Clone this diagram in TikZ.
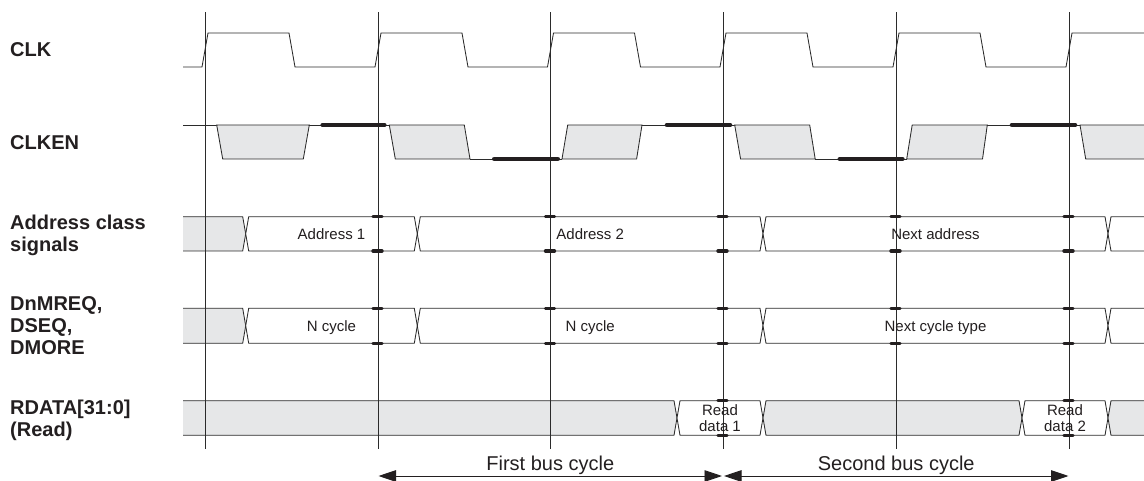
\documentclass[tikz,border=0pt]{standalone}
\usepackage{fontspec}
\setmainfont{Liberation Sans}
\usetikzlibrary{arrows.meta}
\definecolor{ink}{HTML}{231F20}
\definecolor{wire}{HTML}{2B2B2B}
\definecolor{busgray}{HTML}{E6E7E8}
\tikzset{
  sig/.style={draw=wire, line width=0.85pt, line join=miter},
  vline/.style={draw=wire, line width=0.8pt},
  enbar/.style={draw=ink, line width=4.6pt, line cap=round},
  holdbar/.style={draw=ink, line width=3.4pt, line cap=round},
  rowlabel/.style={font=\bfseries\fontsize{20}{21.6}\selectfont, text=ink, anchor=north west, align=left, inner sep=0pt},
  val/.style={font=\fontsize{15}{15.7}\selectfont, text=ink, inner sep=0pt, anchor=base},
  cycarrow/.style={draw=ink, line width=0.9pt, {Triangle[length=17.5pt,width=11.5pt]}-{Triangle[length=17.5pt,width=11.5pt]}},
  cyclabel/.style={font=\fontsize{20}{24}\selectfont, text=ink, inner sep=0pt, anchor=base},
}
% bus value box between two crossings
\newcommand{\tdbox}[5]{\draw[sig,fill=#5] (#1,{(#3+#4)/2}) -- ({#1+3},#3) -- ({#2-3},#3) -- (#2,{(#3+#4)/2}) -- ({#2-3},#4) -- ({#1+3},#4) -- cycle;}
% bus value open at the left edge
\newcommand{\tdstart}[4]{%
  \fill[fill=#4] (183,#2) -- ({#1-3},#2) -- (#1,{(#2+#3)/2}) -- ({#1-3},#3) -- (183,#3) -- cycle;
  \draw[sig] (183,#2) -- ({#1-3},#2) -- (#1,{(#2+#3)/2}) -- ({#1-3},#3) -- (183,#3);}
% bus value open at the right edge
\newcommand{\tdend}[4]{%
  \fill[fill=#4] (1146,#2) -- ({#1+3},#2) -- (#1,{(#2+#3)/2}) -- ({#1+3},#3) -- (1146,#3) -- cycle;
  \draw[sig] (1146,#2) -- ({#1+3},#2) -- (#1,{(#2+#3)/2}) -- ({#1+3},#3) -- (1146,#3);}
\begin{document}
\begin{tikzpicture}[x=1pt,y=-1pt]
\useasboundingbox (0,0) rectangle (1144,481);

% ---------- CLK ----------
\draw[sig] (183,67) -- (202,67) -- (208,33) -- (289,33) -- (295,67)
  -- (375,67) -- (381,33) -- (462,33) -- (468,67)
  -- (547.5,67) -- (553.5,33) -- (634.5,33) -- (640.5,67)
  -- (720,67) -- (726,33) -- (807,33) -- (813,67)
  -- (893,67) -- (899,33) -- (980,33) -- (986,67)
  -- (1066,67) -- (1072,33) -- (1146,33);

% ---------- CLKEN ----------
\draw[sig] (183,125) -- (216.7,125);
\draw[sig,fill=busgray] (216.7,125) -- (309.3,125) -- (303.3,159) -- (222.7,159) -- cycle;
\draw[sig] (309.3,125) -- (389.3,125);
\draw[sig,fill=busgray] (389.3,125) -- (464.3,125) -- (470,159) -- (395.3,159) -- cycle;
\draw[sig] (470,159) -- (562,159);
\draw[sig,fill=busgray] (562,159) -- (567.7,125) -- (642,125) -- (636.6,159) -- cycle;
\draw[sig] (642,125) -- (734.7,125);
\draw[sig,fill=busgray] (734.7,125) -- (809.7,125) -- (815.2,159) -- (740.6,159) -- cycle;
\draw[sig] (815.2,159) -- (906.7,159);
\draw[sig,fill=busgray] (906.7,159) -- (912.2,125) -- (987.3,125) -- (982.5,159) -- cycle;
\draw[sig] (987.3,125) -- (1080,125);
\fill[fill=busgray] (1080,125) -- (1146,125) -- (1146,159) -- (1085.7,159) -- cycle;
\draw[sig] (1146,125) -- (1080,125) -- (1085.7,159) -- (1146,159);

% ---------- Address class signals ----------
\tdstart{245.7}{216.7}{251}{busgray}
\tdbox{245.7}{417.3}{216.7}{251}{white}
\tdbox{417.3}{763}{216.7}{251}{white}
\tdbox{763}{1108}{216.7}{251}{white}
\tdend{1108}{216.7}{251}{white}

% ---------- DnMREQ, DSEQ, DMORE ----------
\tdstart{245.7}{308.3}{343.3}{busgray}
\tdbox{245.7}{417.3}{308.3}{343.3}{white}
\tdbox{417.3}{763}{308.3}{343.3}{white}
\tdbox{763}{1108}{308.3}{343.3}{white}
\tdend{1108}{308.3}{343.3}{white}

% ---------- RDATA ----------
\tdstart{677}{400.7}{435.3}{busgray}
\tdbox{677}{763}{400.7}{435.3}{white}
\tdbox{763}{1022}{400.7}{435.3}{busgray}
\tdbox{1022}{1108}{400.7}{435.3}{white}
\tdend{1108}{400.7}{435.3}{busgray}

% ---------- clock reference lines ----------
\foreach \L in {205,378,550.5,723,896,1069}
  \draw[vline] (\L,12.5) -- (\L,449);

% ---------- CLKEN hold bars ----------
\draw[enbar] (322.7,125) -- (384.3,125);
\draw[enbar] (494.3,159) -- (557.7,159);
\draw[enbar] (667,125) -- (730,125);
\draw[enbar] (839.8,159) -- (902.4,159);
\draw[enbar] (1012,125) -- (1075,125);

% ---------- sampling marks ----------
\foreach \L in {378,550.5,723,896,1069}
  \foreach \yy in {216.7,251,308.3,343.3}
    \draw[holdbar] ({\L-5},\yy) -- ({\L+4},\yy);
\foreach \L in {723,1069}
  \foreach \yy in {400.7,435.3}
    \draw[holdbar] ({\L-5},\yy) -- ({\L+4},\yy);

% ---------- row labels ----------
\node[rowlabel] (lclk) at (10,42.7) {CLK};
\node[rowlabel] (lclken) at (10,135) {CLKEN};
\node[rowlabel] (laddr) at (10,215) {Address class\\signals};
\node[rowlabel] (lreq) at (10,296.7) {DnMREQ,\\DSEQ,\\DMORE};
\node[rowlabel] (lrdata) at (10,400) {RDATA[31:0]\\(Read)};

% ---------- values ----------
\node[val] (va1) at (331.5,239.2) {Address 1};
\node[val] (va2) at (590.2,239.2) {Address 2};
\node[val] (va3) at (935.5,239.2) {Next address};
\node[val] (vn1) at (331.5,331.2) {N cycle};
\node[val] (vn2) at (590.2,331.2) {N cycle};
\node[val] (vn3) at (935.5,331.2) {Next cycle type};
\node[val, anchor=north, align=center] (vr1) at (720,404.5) {Read\\data 1};
\node[val, anchor=north, align=center] (vr2) at (1065,404.5) {Read\\data 2};

% ---------- bus cycles ----------
\coordinate (c1) at (378.5,476);
\coordinate (c3a) at (722,476);
\coordinate (c3b) at (724,476);
\coordinate (c5) at (1068.5,476);
\draw[cycarrow] (c1) -- (c3a) node[midway, cyclabel, yshift=6pt] (first) {First bus cycle};
\draw[cycarrow] (c3b) -- (c5) node[midway, cyclabel, yshift=6pt] (second) {Second bus cycle};
\end{tikzpicture}
\end{document}
